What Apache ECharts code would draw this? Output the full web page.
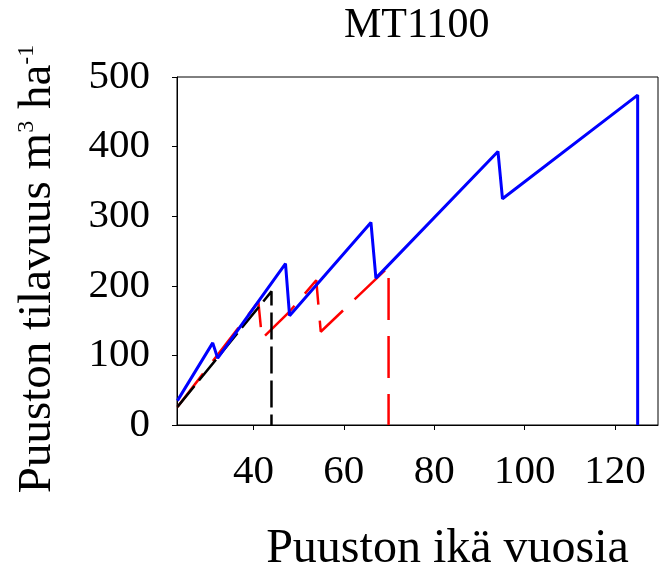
<!DOCTYPE html>
<html>
<head>
<meta charset="utf-8">
<script src="https://cdn.jsdelivr.net/npm/echarts@6/dist/echarts.min.js"></script>
<style>html,body{margin:0;padding:0;background:#fff}#c{width:661px;height:577px}</style>
</head>
<body>
<div id="c"></div>
<script>
// Data (age in years, volume m3/ha)
var titleText = 'MT1100';
var xName = 'Puuston ikä vuosia';
var xTicks = [40, 60, 80, 100, 120];
var yTicks = [0, 100, 200, 300, 400, 500];
var blueSeries = [[23.2,35],[31,118],[32.1,96],[47.1,232],[48,157],[66,291],[67.1,211],[94.1,393],[95.1,325],[125,474],[125,0]];
var redSeries = [[23.2,26],[41.1,177],[41.9,124],[48,163],[53.9,208],[54.9,134],[69.9,227],[69.9,0]];
var blackSeries = [[23.2,26],[44,192],[44,0]];

var FONT = "'Liberation Serif','Times New Roman',serif";
var chart = echarts.init(document.getElementById('c'), null, {renderer:'canvas'});
chart.setOption({
  animation: false,
  backgroundColor: '#fff',
  title: {
    text: titleText, left: 339, top: 0,
    textStyle: {fontFamily: FONT, fontSize: 42, fontWeight: 'normal', color: '#000'}
  },
  grid: {left: 177, right: 3, top: 77, bottom: 152, show: true, borderColor: '#000', borderWidth: 1, backgroundColor: 'transparent'},
  xAxis: {
    type: 'value', min: 23.1, max: 129.5,
    axisLine: {show: true, lineStyle: {color: '#000', width: 1}},
    axisTick: {show: true, inside: false, length: 5, lineStyle: {color: '#000'}, customValues: xTicks},
    axisLabel: {show: true, margin: 27, fontFamily: FONT, fontSize: 41, color: '#000', customValues: xTicks},
    splitLine: {show: false}
  },
  yAxis: {
    type: 'value', min: 0, max: 500, interval: 100,
    axisLine: {show: true, lineStyle: {color: '#000', width: 1}},
    axisTick: {show: true, inside: false, length: 5, lineStyle: {color: '#000'}},
    axisLabel: {show: true, margin: 27, fontFamily: FONT, fontSize: 41, color: '#000'},
    splitLine: {show: false}
  },
  graphic: [
    {
      type: 'text', x: 447.5, y: 549.5,
      style: {text: xName, fontFamily: FONT, fontSize: 48, fill: '#000', align: 'center', verticalAlign: 'middle'}
    },
    {
      type: 'text', x: 38, y: 269, rotation: Math.PI / 2,
      style: {
        text: '{a|Puuston tilavuus m}{s|3}{a| ha}{s|-1}',
        align: 'center', verticalAlign: 'middle', fill: '#000',
        rich: {
          a: {fontFamily: FONT, fontSize: 47, fill: '#000', lineHeight: 47},
          s: {fontFamily: FONT, fontSize: 24, fill: '#000', verticalAlign: 'top', lineHeight: 24}
        }
      }
    }
  ],
  series: [
    {type: 'line', data: redSeries, showSymbol: false, lineStyle: {color: '#ff0000', width: 2.5, type: [42, 16]}, itemStyle: {color: '#ff0000'}},
    {type: 'line', data: blackSeries, showSymbol: false, lineStyle: {color: '#000000', width: 2.5, type: [27, 7]}, itemStyle: {color: '#000'}},
    {type: 'line', data: blueSeries, showSymbol: false, lineStyle: {color: '#0000ff', width: 3}, itemStyle: {color: '#0000ff'}}
  ]
});
</script>
</body>
</html>
